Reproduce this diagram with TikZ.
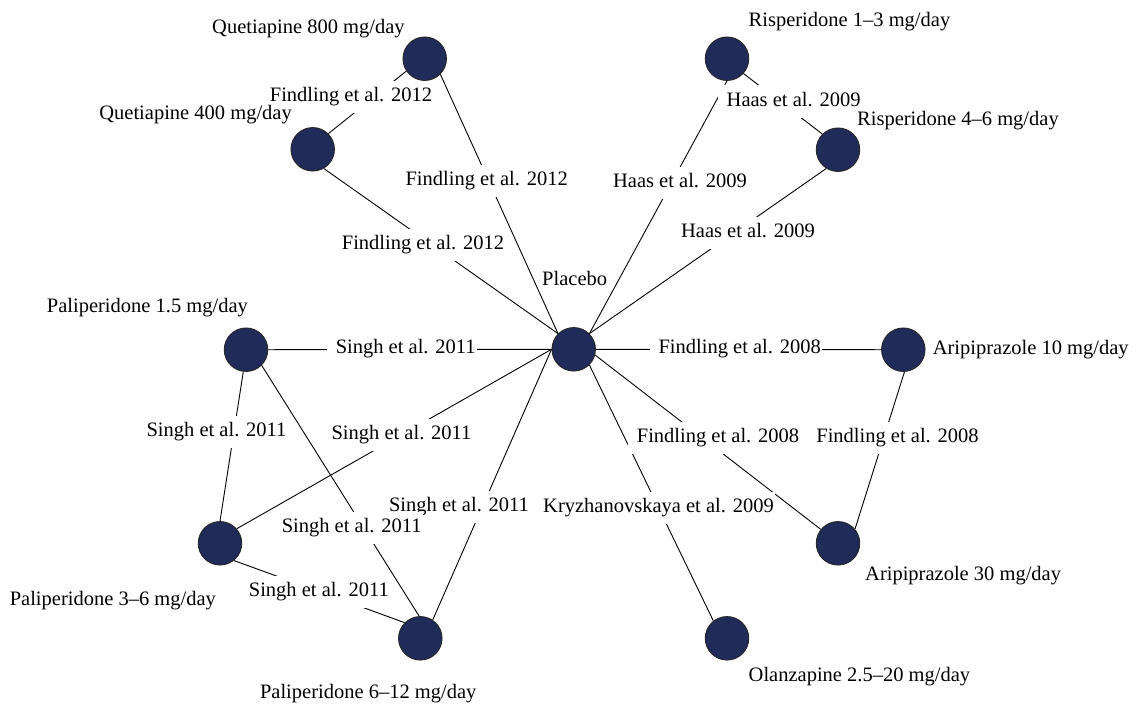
\documentclass[tikz,border=0pt]{standalone}
\usepackage{fontspec}
\setmainfont{Liberation Serif}
\definecolor{nodefill}{RGB}{32,43,89}
\begin{document}
\begin{tikzpicture}[x=1pt,y=-1pt,
  drug/.style={circle, draw=black!85, line width=0.9pt, fill=nodefill, minimum size=43.5pt, inner sep=0pt},
  conn/.style={draw=black, line width=0.9pt},
  lab/.style={fill=white, inner xsep=1pt, inner ysep=7pt, text height=14.3pt, text depth=4.5pt, xshift=-4pt, execute at begin node=\hspace*{8pt}, font=\fontsize{20.5}{24}\selectfont},
  druglab/.style={inner sep=0pt, font=\fontsize{20.5}{24}\selectfont, text height=14.3pt, text depth=4.5pt}]
\fill[white] (0,0) rectangle (1139,710);
\useasboundingbox (0,0) rectangle (1139,710);
% circles
\node[drug] (q800) at (424.7,58.7) {};
\node[drug] (q400) at (312.7,149.3) {};
\node[drug] (r13) at (727,58.7) {};
\node[drug] (r46) at (838,149.7) {};
\node[drug] (plac) at (573.7,349.3) {};
\node[drug] (p15) at (246,349.7) {};
\node[drug] (a10) at (903.3,349.7) {};
\node[drug] (p36) at (220,543.3) {};
\node[drug] (a30) at (838,543.3) {};
\node[drug] (p612) at (420.3,638.3) {};
\node[drug] (olz) at (727,638.3) {};
% connectors
\draw[conn] (q800.-146) -- (q400.north east);
\draw[conn] (q800.south east) -- (plac.north west);
\draw[conn] (q400.-60) -- (plac.north west);
\draw[conn] (r13.-42) -- (r46.north west);
\draw[conn] (r13.-90) -- (plac.north east);
\draw[conn] (r46.-122) -- (plac.north east);
\draw[conn] (p15.east) -- (plac.west);
\draw[conn] (p15.-97) -- (p36.north);
\draw[conn] (p36.41) -- (plac.west);
\draw[conn] (p612.56) -- (plac.west);
\draw[conn] (p15.south east) -- (p612.93);
\draw[conn] (p36.-51) -- (p612.north west);
\draw[conn] (plac.east) -- (a10.west);
\draw[conn] (plac.-15) -- (a30.141);
\draw[conn] (a10.-87) -- (a30.40);
\draw[conn] (plac.south east) -- (olz.128);
% edge labels
\node[lab] (l1) at (351,97) {Findling et al. 2012};
\node[lab] (l2) at (486.7,181) {Findling et al. 2012};
\node[lab] (l3) at (423,245) {Findling et al. 2012};
\node[lab] (l4) at (793.6,101.5) {Haas et al. 2009};
\node[lab] (l5) at (680,183) {Haas et al. 2009};
\node[lab] (l6) at (748,233) {Haas et al. 2009};
\node[lab] (l7) at (405.7,349) {Singh et al. 2011};
\node[lab] (l8) at (216.5,432) {Singh et al. 2011};
\node[lab] (l9) at (401.5,435) {Singh et al. 2011};
\node[lab] (l10) at (459,507) {Singh et al. 2011};
\node[lab] (l11) at (351.7,528) {Singh et al. 2011};
\node[lab] (l12) at (318.8,592) {Singh et al. 2011};
\node[lab] (l13) at (739.7,349) {Findling et al. 2008};
\node[lab] (l14) at (718,438) {Findling et al. 2008};
\node[lab] (l15) at (897.5,438) {Findling et al. 2008};
\node[lab] (l16) at (658.5,508) {Kryzhanovskaya et al. 2009};
% drug names
\node[druglab, anchor=west] (tq800) at (212,29) {Quetiapine 800 mg/day};
\node[druglab, anchor=east] (tq400) at (292,115) {Quetiapine 400 mg/day};
\node[druglab, anchor=west] (tr13) at (748.5,22) {Risperidone 1–3 mg/day};
\node[druglab, anchor=west] (tr46) at (857,121) {Risperidone 4–6 mg/day};
\node[druglab, anchor=west] (tplac) at (542,281) {Placebo};
\node[druglab, anchor=west] (tp15) at (46.7,308) {Paliperidone 1.5 mg/day};
\node[druglab, anchor=west] (ta10) at (932.6,350) {Aripiprazole 10 mg/day};
\node[druglab, anchor=west] (tp36) at (9.6,601) {Paliperidone 3–6 mg/day};
\node[druglab, anchor=west] (ta30) at (865,576) {Aripiprazole 30 mg/day};
\node[druglab, anchor=west] (tp612) at (259.8,694) {Paliperidone 6–12 mg/day};
\node[druglab, anchor=west] (tolz) at (748.5,677) {Olanzapine 2.5–20 mg/day};
\end{tikzpicture}
\end{document}
